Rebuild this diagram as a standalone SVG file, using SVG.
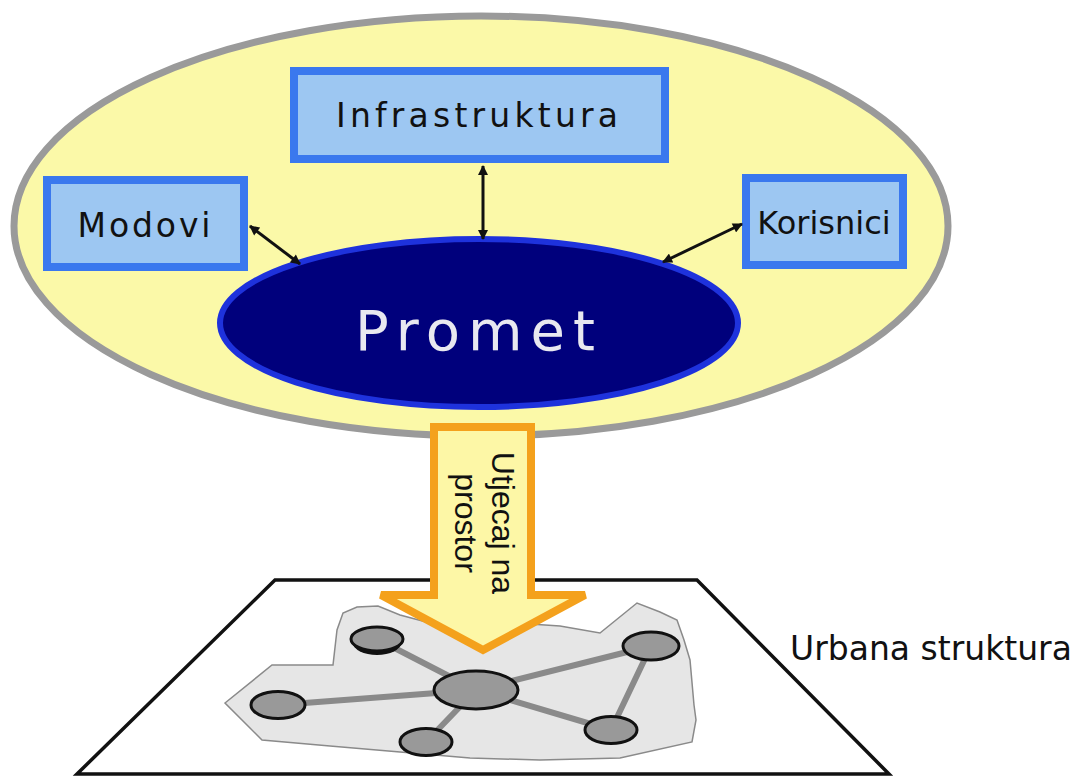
<svg xmlns="http://www.w3.org/2000/svg" width="1078" height="778" viewBox="0 0 1078 778">
<defs>
<marker id="ah" viewBox="0 0 10 10" refX="9" refY="5" markerWidth="11" markerHeight="10" markerUnits="userSpaceOnUse" orient="auto-start-reverse">
<path d="M0,0 L10,5 L0,10 z" fill="#111"/>
</marker>
<style>
.box{fill:#9dc7f2;stroke:#3a78ee;stroke-width:8}
.lbl{font-family:"DejaVu Sans",Verdana,sans-serif;fill:#111;text-anchor:middle}
.con{stroke:#111;stroke-width:3;fill:none;marker-start:url(#ah);marker-end:url(#ah)}
.edge{stroke:#8a8a8a;stroke-width:6;stroke-linecap:round}
.node{fill:#999;stroke:#111;stroke-width:3}
</style>
</defs>
<rect width="1078" height="778" fill="#fff"/>

<g id="system">
<ellipse cx="481" cy="226" rx="467" ry="210" fill="#fbf9a8" stroke="#9a9a9a" stroke-width="7"/>
</g>

<g id="promet">
<ellipse cx="479" cy="323" rx="259" ry="84" fill="#00007c" stroke="#1e32dc" stroke-width="6"/>
<text x="475" y="350" font-family="DejaVu Sans, Verdana, sans-serif" font-size="56" fill="#e8e8f0" text-anchor="middle" textLength="240" lengthAdjust="spacing">Promet</text>
</g>

<g id="infrastruktura">
<rect class="box" x="294" y="71" width="371" height="88"/>
<text class="lbl" x="477" y="127" font-size="33" textLength="282" lengthAdjust="spacing">Infrastruktura</text>
</g>

<g id="modovi">
<rect class="box" x="47" y="180" width="197" height="87"/>
<text class="lbl" x="144" y="237" font-size="33" textLength="133" lengthAdjust="spacing">Modovi</text>
</g>

<g id="korisnici">
<rect class="box" x="746" y="178" width="157" height="87"/>
<text class="lbl" x="824" y="234" font-size="32">Korisnici</text>
</g>

<g id="connectors">
<line class="con" x1="483" y1="166" x2="483" y2="239"/>
<line class="con" x1="250" y1="226" x2="300" y2="264"/>
<line class="con" x1="742" y1="224" x2="663" y2="262"/>
</g>

<g id="urbana">
<polygon points="275,580 697,580 889,774 77,774" fill="#fff" stroke="#111" stroke-width="3.5" stroke-linejoin="miter"/>
<polygon points="225,703 272,665 333,665 337,630 343,613 357,607 378,606 400,615 430,623 470,628 530,624 560,626 600,633 637,603 660,612 677,620 684,640 690,660 694,705 696,720 692,742 620,758 540,760 470,758 400,752 330,746 262,740" fill="#e6e6e6" stroke="#8a8a8a" stroke-width="1.5"/>
<line class="edge" x1="377" y1="639" x2="476" y2="690"/>
<line class="edge" x1="278" y1="705" x2="476" y2="690"/>
<line class="edge" x1="476" y1="690" x2="426" y2="742"/>
<line class="edge" x1="476" y1="690" x2="611" y2="730"/>
<line class="edge" x1="476" y1="690" x2="651" y2="646"/>
<line class="edge" x1="651" y1="646" x2="611" y2="730"/>
<ellipse cx="377" cy="643" rx="24" ry="12" fill="#111"/>
<ellipse class="node" cx="377" cy="639" rx="26" ry="12"/>
<ellipse class="node" cx="476" cy="690" rx="42" ry="19"/>
<ellipse class="node" cx="278" cy="705" rx="27" ry="13.5"/>
<ellipse class="node" cx="426" cy="742" rx="26" ry="13.5"/>
<ellipse class="node" cx="651" cy="646" rx="28" ry="14"/>
<ellipse class="node" cx="611" cy="730" rx="26" ry="13.5"/>
<text x="790" y="660" font-family="DejaVu Sans, Verdana, sans-serif" font-size="33" fill="#111">Urbana struktura</text>
</g>

<g id="utjecaj">
<polygon points="434,427 531,427 531,595 585,595 483,650 381,595 434,595" fill="#fdf7a6" stroke="#f4a11c" stroke-width="8" stroke-linejoin="miter"/>
<g transform="translate(492,523) rotate(90)" font-family="Liberation Sans, Arial, sans-serif" font-size="32" fill="#111" text-anchor="middle">
<text x="0" y="0">Utjecaj na</text>
<text x="0" y="37">prostor</text>
</g>
</g>
</svg>
